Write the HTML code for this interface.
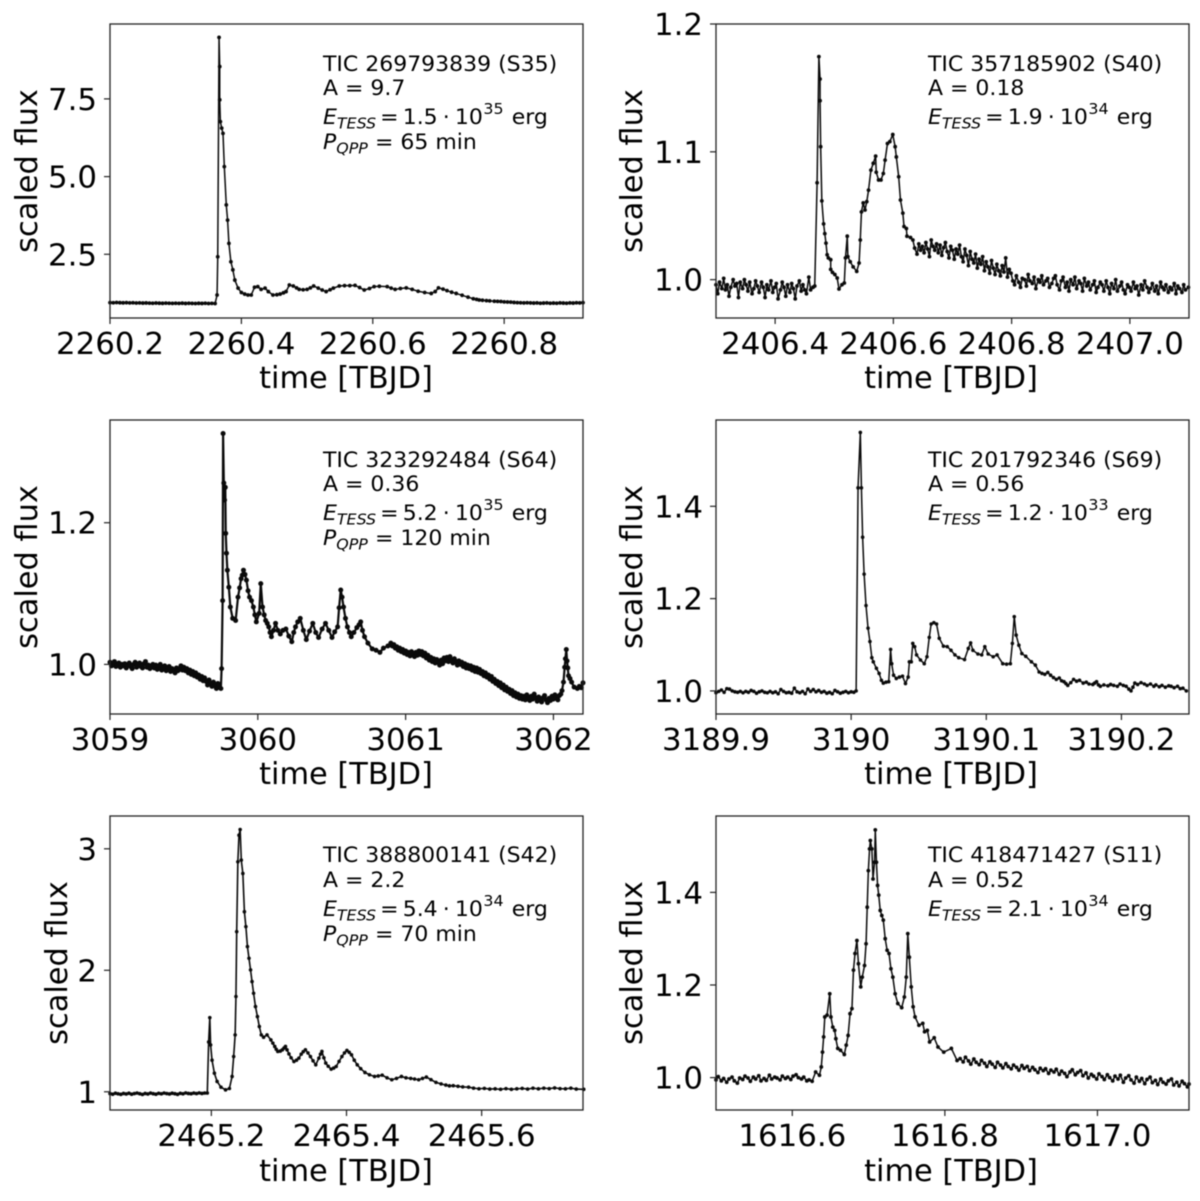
<!DOCTYPE html>
<html lang="en">
<head>
<meta charset="utf-8">
<title>TESS flare light curves</title>
<style>
html,body{margin:0;padding:0;background:#fff;}
svg{display:block;filter:blur(0.4px);}
text{font-family:"DejaVu Sans","Liberation Sans",sans-serif;fill:#000;}
.axis-title{font-size:30.4px;}
.ann{font-size:21.5px;}
.it{font-style:italic;}
.small{font-size:15.5px;}
</style>
</head>
<body>
<svg id="figure" xmlns="http://www.w3.org/2000/svg" width="1200" height="1201" viewBox="0 0 1200 1201">
<rect width="1200" height="1201" fill="#fff"/>

<g id="panel-1"></g>
<g id="panel-2"></g>
<g id="panel-3"></g>
<g id="panel-4"></g>
<g id="panel-5"></g>
<g id="panel-6"></g>

<!-- axis titles -->
<text class="axis-title" transform="translate(37,171) rotate(-90)" text-anchor="middle">scaled flux</text>
<text class="axis-title" transform="translate(346,388)" text-anchor="middle">time [TBJD]</text>
<text class="axis-title" transform="translate(642,171) rotate(-90)" text-anchor="middle">scaled flux</text>
<text class="axis-title" transform="translate(951,388)" text-anchor="middle">time [TBJD]</text>
<text class="axis-title" transform="translate(37,567) rotate(-90)" text-anchor="middle">scaled flux</text>
<text class="axis-title" transform="translate(346,784)" text-anchor="middle">time [TBJD]</text>
<text class="axis-title" transform="translate(642,567) rotate(-90)" text-anchor="middle">scaled flux</text>
<text class="axis-title" transform="translate(951,784)" text-anchor="middle">time [TBJD]</text>
<text class="axis-title" transform="translate(67,963) rotate(-90)" text-anchor="middle">scaled flux</text>
<text class="axis-title" transform="translate(346,1181)" text-anchor="middle">time [TBJD]</text>
<text class="axis-title" transform="translate(642,963) rotate(-90)" text-anchor="middle">scaled flux</text>
<text class="axis-title" transform="translate(951,1181)" text-anchor="middle">time [TBJD]</text>

<!-- panel 1 annotation -->
<g>
<text class="ann" transform="translate(323,71) scale(1.023,1)">TIC 269793839 (S35)</text>
<text class="ann" transform="translate(323,95) scale(1.023,1)">A = 9.7</text>
<text class="ann" transform="translate(323,124) scale(1.023,1)"><tspan class="it">E</tspan><tspan class="it small" dy="4.5">TESS</tspan><tspan dy="-4.5" dx="4">=</tspan><tspan dx="4">1.5</tspan><tspan dx="5">·</tspan><tspan dx="5">10</tspan><tspan class="small" dy="-10" dx="0.5">35</tspan><tspan dy="10" dx="8">erg</tspan></text>
<text class="ann" transform="translate(323,149) scale(1.023,1)"><tspan class="it">P</tspan><tspan class="it small" dy="4.5">QPP</tspan><tspan dy="-4.5" dx="7">= 65 min</tspan></text>
</g>
<!-- panel 2 annotation -->
<g>
<text class="ann" transform="translate(928,71) scale(1.023,1)">TIC 357185902 (S40)</text>
<text class="ann" transform="translate(928,95) scale(1.023,1)">A = 0.18</text>
<text class="ann" transform="translate(928,124) scale(1.023,1)"><tspan class="it">E</tspan><tspan class="it small" dy="4.5">TESS</tspan><tspan dy="-4.5" dx="4">=</tspan><tspan dx="4">1.9</tspan><tspan dx="5">·</tspan><tspan dx="5">10</tspan><tspan class="small" dy="-10" dx="0.5">34</tspan><tspan dy="10" dx="8">erg</tspan></text>
</g>
<!-- panel 3 annotation -->
<g>
<text class="ann" transform="translate(323,467) scale(1.023,1)">TIC 323292484 (S64)</text>
<text class="ann" transform="translate(323,491) scale(1.023,1)">A = 0.36</text>
<text class="ann" transform="translate(323,520) scale(1.023,1)"><tspan class="it">E</tspan><tspan class="it small" dy="4.5">TESS</tspan><tspan dy="-4.5" dx="4">=</tspan><tspan dx="4">5.2</tspan><tspan dx="5">·</tspan><tspan dx="5">10</tspan><tspan class="small" dy="-10" dx="0.5">35</tspan><tspan dy="10" dx="8">erg</tspan></text>
<text class="ann" transform="translate(323,545) scale(1.023,1)"><tspan class="it">P</tspan><tspan class="it small" dy="4.5">QPP</tspan><tspan dy="-4.5" dx="7">= 120 min</tspan></text>
</g>
<!-- panel 4 annotation -->
<g>
<text class="ann" transform="translate(928,467) scale(1.023,1)">TIC 201792346 (S69)</text>
<text class="ann" transform="translate(928,491) scale(1.023,1)">A = 0.56</text>
<text class="ann" transform="translate(928,520) scale(1.023,1)"><tspan class="it">E</tspan><tspan class="it small" dy="4.5">TESS</tspan><tspan dy="-4.5" dx="4">=</tspan><tspan dx="4">1.2</tspan><tspan dx="5">·</tspan><tspan dx="5">10</tspan><tspan class="small" dy="-10" dx="0.5">33</tspan><tspan dy="10" dx="8">erg</tspan></text>
</g>
<!-- panel 5 annotation -->
<g>
<text class="ann" transform="translate(323,862) scale(1.023,1)">TIC 388800141 (S42)</text>
<text class="ann" transform="translate(323,887) scale(1.023,1)">A = 2.2</text>
<text class="ann" transform="translate(323,916) scale(1.023,1)"><tspan class="it">E</tspan><tspan class="it small" dy="4.5">TESS</tspan><tspan dy="-4.5" dx="4">=</tspan><tspan dx="4">5.4</tspan><tspan dx="5">·</tspan><tspan dx="5">10</tspan><tspan class="small" dy="-10" dx="0.5">34</tspan><tspan dy="10" dx="8">erg</tspan></text>
<text class="ann" transform="translate(323,941) scale(1.023,1)"><tspan class="it">P</tspan><tspan class="it small" dy="4.5">QPP</tspan><tspan dy="-4.5" dx="7">= 70 min</tspan></text>
</g>
<!-- panel 6 annotation -->
<g>
<text class="ann" transform="translate(928,862) scale(1.023,1)">TIC 418471427 (S11)</text>
<text class="ann" transform="translate(928,887) scale(1.023,1)">A = 0.52</text>
<text class="ann" transform="translate(928,916) scale(1.023,1)"><tspan class="it">E</tspan><tspan class="it small" dy="4.5">TESS</tspan><tspan dy="-4.5" dx="4">=</tspan><tspan dx="4">2.1</tspan><tspan dx="5">·</tspan><tspan dx="5">10</tspan><tspan class="small" dy="-10" dx="0.5">34</tspan><tspan dy="10" dx="8">erg</tspan></text>
</g>
</svg>

<script>
// Times are stored relative to the whole day of each panel's TBJD axis.
const p1XTicks = [0.2, 0.4, 0.6, 0.8];
const p1XLabels = ["2260.2", "2260.4", "2260.6", "2260.8"];
const p1YTicks = [2.5, 5.0, 7.5];
const p1YLabels = ["2.5", "5.0", "7.5"];
const p1Time = [
.200,.205,.210,.215,.220,.225,.230,.235,.240,.245,
.250,.255,.260,.265,.270,.275,.280,.285,.290,.295,
.300,.305,.310,.315,.320,.325,.330,.335,.340,.345,
.350,.355,.360,.363,.364,.366,.367,.367,.368,.370,
.372,.374,.377,.379,.381,.384,.387,.390,.395,.400,
.405,.410,.415,.420,.425,.430,.436,.441,.448,.454,
.459,.464,.468,.473,.479,.484,.488,.494,.500,.505,
.510,.517,.523,.529,.535,.540,.549,.557,.565,.573,
.580,.587,.595,.602,.610,.622,.628,.634,.642,.651,
.660,.669,.679,.689,.695,.700,.707,.713,.720,.727,
.736,.745,.753,.758,.762,.767,.773,.778,.785,.790,
.795,.800,.805,.810,.815,.820,.825,.830,.835,.840,
.845,.850,.855,.860,.865,.870,.875,.880,.885,.890,
.895,.900,.905,.910,.915,.920
];
const p1Flux = [
.945,.940,.948,.942,.938,.943,.936,.940,.933,.936,
.930,.934,.928,.925,.931,.926,.922,.928,.924,.920,
.925,.921,.926,.918,.923,.919,.916,.922,.918,.924,
.917,.921,.915,1.19,2.42,9.48,8.54,7.47,6.77,6.56,
6.39,5.32,4.09,3.60,2.85,2.26,2.00,1.67,1.41,1.27,
1.22,1.19,1.19,1.44,1.46,1.37,1.41,1.30,1.19,1.20,
1.22,1.26,1.30,1.51,1.48,1.42,1.37,1.36,1.37,1.42,
1.48,1.41,1.35,1.30,1.36,1.41,1.48,1.49,1.49,1.50,
1.43,1.35,1.40,1.46,1.47,1.46,1.41,1.37,1.40,1.42,
1.37,1.31,1.27,1.24,1.30,1.42,1.38,1.33,1.28,1.24,
1.18,1.12,1.07,1.05,1.03,1.02,1.01,1.00,.99,.985,
.98,.97,.965,.96,.95,.945,.94,.935,.94,.935,
.93,.935,.925,.93,.935,.925,.93,.925,.935,.93,
.925,.935,.93,.94,.935,.945
];

const p2XTicks = [0.4, 0.6, 0.8, 1.0];
const p2XLabels = ["2406.4", "2406.6", "2406.8", "2407.0"];
const p2YTicks = [1.0, 1.1, 1.2];
const p2YLabels = ["1.0", "1.1", "1.2"];
const p2Time = [
.300,.303,.306,.310,.313,.316,.319,.322,.325,.329,
.332,.335,.338,.341,.345,.348,.351,.354,.357,.361,
.364,.367,.370,.373,.377,.380,.383,.386,.389,.393,
.396,.399,.402,.405,.409,.412,.415,.418,.421,.425,
.428,.431,.434,.437,.441,.444,.447,.450,.453,.457,
.460,.464,.467,.471,.474,.476,.476,.477,.479,.482,
.484,.486,.488,.490,.494,.494,.497,.501,.505,.508,
.513,.517,.519,.522,.523,.527,.532,.538,.542,.544,
.546,.549,.552,.555,.558,.562,.566,.570,.571,.575,
.579,.583,.586,.590,.594,.599,.603,.605,.609,.612,
.616,.618,.622,.623,.629,.633,.636,.640,.643,.646,
.649,.652,.655,.658,.661,.664,.667,.670,.673,.676,
.679,.682,.685,.688,.691,.694,.697,.700,.703,.706,
.709,.712,.715,.718,.721,.724,.727,.730,.733,.736,
.739,.742,.745,.748,.751,.754,.757,.760,.763,.766,
.769,.772,.775,.778,.781,.784,.787,.790,.793,.796,
.799,.802,
.805,.808,.812,.815,.818,.822,.825,.828,.831,.835,
.838,.841,.845,.848,.851,.854,.858,.861,.864,.868,
.871,.874,.877,.881,.884,.887,.891,.894,.897,.900,
.904,.907,.910,.914,.917,.920,.923,.927,.930,.933,
.937,.940,.943,.946,.950,.953,.956,.960,.963,.966,
.969,.973,.976,.979,.983,.986,.989,.992,.996,.999,
1.002,1.006,1.009,1.012,1.015,1.019,1.022,1.025,1.029,1.032,
1.035,1.038,1.042,1.045,1.048,1.052,1.055,1.058,1.061,1.065,
1.068,1.071,1.075,1.078,1.081,1.084,1.088,1.091,1.094,1.099
];
const p2Flux = [
.996,.989,.998,.993,1.001,.992,.996,.987,.994,1.000,
.995,.997,.986,.998,.993,1.000,.996,.991,.998,.989,
.993,.999,.995,.990,.998,.994,.986,.996,.992,.999,
.990,.994,.997,.985,.992,.998,.994,.987,.996,.990,
.997,.993,.985,.995,.999,.991,.996,.992,.989,1.002,
.992,.994,.995,1.0758,1.1745,1.157,1.140,1.104,1.0616,1.0436,
1.036,1.0286,1.0195,1.017,1.0156,1.008,1.0057,1.004,1.0013,.9927,
.996,.9974,1.017,1.034,1.018,1.014,1.010,1.0065,1.013,1.031,
1.053,1.060,1.0545,1.061,1.070,1.0857,1.091,1.0966,1.084,1.078,
1.078,1.083,1.0935,1.1065,1.108,1.1135,1.104,1.096,1.0805,1.0623,
1.052,1.0416,1.040,1.034,1.033,1.031,1.0247,1.020,1.028,1.023,
1.026,1.021,1.029,1.024,1.018,1.031,1.026,1.023,1.028,1.021,
1.027,1.019,1.025,1.029,1.022,1.017,1.026,1.023,1.016,1.024,
1.020,1.027,1.018,1.014,1.024,1.019,1.011,1.022,1.016,1.013,
1.020,1.009,1.016,1.012,1.018,1.007,1.014,1.010,1.005,1.015,
1.009,1.004,1.012,1.007,1.003,1.011,1.006,1.017,1.002,1.008,
1.005,.999,
.996,1.003,.998,.994,1.001,1.000,.995,1.004,.999,.997,
1.002,.993,1.000,.998,1.003,.996,.999,1.001,.994,.997,
1.001,1.003,.996,.992,.999,1.002,.994,.998,.991,1.000,
.996,1.002,.993,.999,.997,.991,1.001,.995,.998,.992,
.996,.999,.990,.994,.998,.996,.991,.999,.994,.989,
.997,.993,1.000,.991,.995,.998,.992,.989,.996,.994,
.991,.998,.993,.995,.988,.996,.992,.999,.994,.990,
.993,.997,.991,.995,.989,.998,.994,.992,.996,.990,
.994,.992,.997,.989,.995,.993,.990,.996,.992,.994
];

const p3XTicks = [0, 1, 2, 3];
const p3XLabels = ["3059", "3060", "3061", "3062"];
const p3YTicks = [1.0, 1.2];
const p3YLabels = ["1.0", "1.2"];
const p3Time = [
.00,.01,.02,.03,.04,.05,.06,.07,.08,.09,
.10,.11,.12,.13,.14,.15,.16,.17,.18,.19,
.20,.21,.22,.23,.24,.25,.26,.27,.28,.29,
.30,.31,.32,.33,.34,.35,.36,.37,.38,.39,
.40,.41,.42,.43,.44,.45,.46,.47,.48,.49,
.50,.51,.52,.53,.54,.55,.56,.57,.58,.59,
.60,.61,.62,.63,.64,.65,.66,.67,.68,.69,
.70,.71,.72,.73,.74,
.750,.755,.762,.765,.770,.775,.780,.783,.788,.794,
.804,.814,.830,.850,.866,.877,.887,.895,.903,.913,
.923,.934,.944,.957,.970,.980,.990,1.009,1.020,1.032,
1.043,1.053,1.064,1.074,1.083,1.092,1.106,1.120,1.136,1.152,
1.170,1.190,1.210,1.230,1.243,1.255,1.270,1.287,1.308,1.328,
1.350,1.372,1.392,1.411,1.435,1.458,1.480,1.502,1.520,1.540,
1.550,1.561,1.570,1.580,1.593,1.606,1.620,1.632,1.650,1.670,
1.685,1.696,1.708,1.722,1.745,1.774,1.800,1.826,1.850,1.880,
1.90,1.91,1.92,1.93,1.94,1.95,1.96,1.97,1.98,1.99,
2.00,2.01,2.02,2.03,2.04,2.05,2.06,2.07,2.08,2.09,
2.10,2.11,2.12,2.13,2.14,2.15,2.16,2.17,2.18,2.19,
2.20,2.21,2.22,2.23,2.24,2.25,2.26,2.27,2.28,2.29,
2.30,2.31,2.32,2.33,2.34,2.35,2.36,2.37,2.38,2.39,
2.40,2.41,2.42,2.43,2.44,2.45,2.46,2.47,2.48,2.49,
2.50,2.51,2.52,2.53,2.54,2.55,2.56,2.57,2.58,2.59,
2.60,2.61,2.62,2.63,2.64,2.65,2.66,2.67,2.68,2.69,
2.70,2.71,2.72,2.73,2.74,2.75,2.76,2.77,2.78,2.79,
2.80,2.81,2.82,2.83,2.84,2.85,2.86,2.87,2.88,2.89,
2.90,2.91,2.92,2.93,2.94,2.95,2.96,2.97,2.98,2.99,
3.00,3.01,3.02,3.03,3.04,3.05,3.058,3.068,
3.076,3.081,3.087,3.092,3.097,3.102,3.112,3.123,3.140,3.162,
3.175,3.188,3.200
];
const p3Flux = [
1.003,.998,1.001,1.004,.997,.999,1.002,.996,1.000,.998,
1.001,.995,.999,1.002,.997,.994,1.000,1.003,.996,.998,
1.002,.997,.995,1.001,1.004,.996,.999,.994,.998,1.000,
.995,.999,.993,.997,1.000,.992,.996,.998,.991,.995,
.997,.990,.994,.992,.988,.995,.991,.993,.998,.992,
.996,.991,.994,.988,.992,.986,.990,.984,.988,.982,
.985,.979,.983,.977,.981,.976,.971,.978,.973,.969,
.975,.970,.966,.973,.968,
.966,.994,1.09,1.326,1.256,1.232,1.25,1.185,1.157,1.133,
1.109,1.081,1.065,1.062,1.095,1.108,1.121,1.126,1.133,1.127,
1.119,1.104,1.095,1.090,1.081,1.070,1.060,1.072,1.114,1.081,
1.070,1.062,1.058,1.053,1.045,1.039,1.048,1.058,1.048,1.043,
1.048,1.050,1.040,1.032,1.045,1.053,1.060,1.065,1.048,1.035,
1.047,1.058,1.045,1.038,1.050,1.058,1.048,1.038,1.046,1.053,
1.080,1.105,1.095,1.081,1.065,1.053,1.045,1.039,1.045,1.052,
1.056,1.060,1.048,1.039,1.030,1.022,1.020,1.017,1.023,1.026,
1.030,1.026,1.028,1.023,1.025,1.020,1.023,1.018,1.021,1.016,
1.019,1.014,1.017,1.012,1.018,1.015,1.011,1.017,1.013,1.019,
1.014,1.018,1.012,1.016,1.009,1.013,1.006,1.010,1.004,1.008,
1.002,1.007,1.003,.999,1.006,1.001,1.009,1.005,1.010,1.004,
1.011,1.006,1.002,1.008,1.004,.999,1.005,1.000,1.003,.997,
1.001,.995,.999,.994,.998,.992,.996,.990,.995,.989,
.993,.987,.990,.984,.988,.982,.985,.979,.983,.976,
.979,.973,.976,.970,.974,.967,.971,.964,.968,.962,
.965,.959,.963,.956,.960,.954,.958,.952,.956,.951,
.955,.950,.957,.952,.949,.955,.951,.958,.953,.948,
.954,.950,.947,.953,.956,.950,.946,.952,.949,.955,
.951,.957,.953,.950,.956,.958,.963,.975,
.996,1.008,1.021,1.005,.995,.984,.980,.975,.968,.966,
.969,.967,.974
];

const p4XTicks = [-0.1, 0, 0.1, 0.2];
const p4XLabels = ["3189.9", "3190", "3190.1", "3190.2"];
const p4YTicks = [1.0, 1.2, 1.4];
const p4YLabels = ["1.0", "1.2", "1.4"];
const p4Time = [
-.100,-.098,-.096,-.094,-.092,-.090,-.088,-.086,-.084,-.082,
-.080,-.078,-.076,-.074,-.072,-.070,-.068,-.066,-.064,-.062,
-.060,-.058,-.056,-.054,-.052,-.050,-.048,-.046,-.044,-.042,
-.040,-.038,-.036,-.034,-.032,-.030,-.028,-.026,-.024,-.022,
-.020,-.018,-.016,-.014,-.012,-.010,-.008,-.006,-.004,-.002,
.000,.002,.0037,.0051,.0068,.0076,.0085,.0096,.011,.0125,
.0139,.0153,.0164,.0187,.0207,.0224,.0238,.0258,.0278,.0292,
.030,.0314,.0334,.0357,.038,.0402,.0422,.0431,.0445,.0456,
.047,.0484,.0513,.0541,.0561,.0578,.0592,.0612,.0632,.0652,
.0683,.0711,.0739,.0768,.0796,.0839,.0867,.0884,.0901,.0938,
.0966,.0989,.1014,.1051,.108,.1122,.115,.1178,.1193,.1207,
.1221,.1241,.1263,.1292,.1334,.1363,
.1391,.1412,.1433,.1455,.1476,.1497,.1518,.154,.1557,.1575,
.1589,.1603,.1625,.1646,.1668,.1690,.1717,.174,.176,.1788,
.1802,.1816,.1830,.1844,.187,.190,.192,.1943,.197,.199,
.2014,.2035,.2055,.2071,.2085,.2099,.212,.2145,.217,.219,
.2215,.2240,.2255,.228,.230,.2325,.235,.2368,.239,.2415,
.2435,.2455,.2480
];
const p4Flux = [
.996,.999,1.002,.997,1.005,1.004,1.000,.998,.997,.999,
.996,.999,.997,1.001,.999,.995,.998,1.000,.997,.996,
.999,.996,.998,.994,1.003,.999,.996,.997,.995,1.006,
.998,.996,.999,.994,1.004,.999,1.003,.998,1.001,.997,
.999,.995,.997,.994,1.001,.998,.995,.997,.999,.996,
.998,.997,1.000,1.44,1.56,1.44,1.333,1.253,1.185,1.136,
1.107,1.072,1.063,1.049,1.038,1.023,1.017,1.019,1.020,1.090,
1.059,1.034,1.027,1.030,1.032,1.016,1.030,1.063,1.063,1.103,
1.096,1.078,1.067,1.059,1.074,1.116,1.145,1.148,1.145,1.114,
1.097,1.096,1.088,1.078,1.072,1.068,1.092,1.104,1.088,1.080,
1.078,1.096,1.080,1.074,1.078,1.059,1.058,1.059,1.103,1.161,
1.121,1.099,1.081,1.075,1.063,1.056,
1.041,1.038,1.036,1.040,1.034,1.029,1.025,1.028,1.022,1.020,
1.016,1.012,1.018,1.025,1.021,1.023,1.017,1.019,1.015,1.014,
1.017,1.020,1.013,1.010,1.013,1.011,1.014,1.012,1.010,1.015,
1.012,1.010,1.004,1.000,1.008,1.017,1.014,1.018,1.015,1.012,
1.015,1.010,1.013,1.009,1.012,1.008,1.011,1.010,1.007,1.010,
1.005,1.006,1.000
];

const p5XTicks = [0.2, 0.4, 0.6];
const p5XLabels = ["2465.2", "2465.4", "2465.6"];
const p5YTicks = [1, 2, 3];
const p5YLabels = ["1", "2", "3"];
const p5Time = [
.050,.054,.058,.062,.066,.070,.074,.078,.082,.086,
.090,.094,.098,.102,.106,.110,.114,.118,.122,.126,
.130,.134,.138,.142,.146,.150,.154,.158,.162,.166,
.170,.174,.178,.182,.186,.190,.194,.196,.1977,.1989,
.201,.2045,.2085,.2142,.221,.2267,.2307,.233,.2352,.2364,
.2375,.2392,.2409,.2426,.2443,.2466,.2489,.2511,.2534,.2557,
.258,.2602,.2625,.2653,.2682,.271,.2739,.2773,.2824,
.2881,.291,.2938,.296,.2983,.302,.3051,.3075,.3097,.312,
.3148,.318,.3222,.326,.3295,.333,.336,.3392,.343,.3466,
.3505,.3545,.3591,.3615,.3636,.3665,.3693,.373,.3773,.381,
.3847,.389,.3932,.397,.4006,.404,.4074,.4115,.4159,.421,
.4273,.434,.4415,.447,.4528,.460,.467,.474,.4813,.488,
.495,.5007,.5068,.5125,.5182,.525,.5324,.540,.547,.5523,
.558,.565,.572,.5807,.588,.596,.604,.612,.620,.628,
.636,.644,.652,.660,.668,.676,.684,.692,.700,.708,
.716,.724,.732,.740,.7511
];
const p5Flux = [
.985,.980,.988,.983,.979,.986,.982,.988,.980,.985,
.990,.984,.978,.986,.982,.989,.984,.980,.987,.983,
.990,.985,.982,.988,.984,.979,.987,.983,.991,.986,
.984,.989,.985,.991,.986,.990,.990,1.41,1.61,1.386,
1.26,1.153,1.085,1.038,1.016,1.027,1.126,1.29,1.468,1.784,
2.318,2.893,3.112,3.159,2.907,2.797,2.482,2.359,2.195,2.099,
2.003,1.907,1.811,1.701,1.619,1.537,1.468,1.449,1.468,
1.427,1.40,1.373,1.35,1.332,1.335,1.345,1.36,1.373,1.345,
1.312,1.28,1.249,1.26,1.277,1.31,1.33,1.345,1.32,1.29,
1.255,1.222,1.277,1.31,1.332,1.28,1.236,1.21,1.186,1.195,
1.208,1.25,1.29,1.32,1.34,1.325,1.304,1.26,1.222,1.19,
1.159,1.14,1.126,1.13,1.137,1.115,1.099,1.11,1.126,1.115,
1.11,1.105,1.099,1.11,1.121,1.10,1.077,1.065,1.055,1.049,
1.05,1.045,1.04,1.038,1.03,1.025,1.028,1.022,1.024,1.02,
1.026,1.02,1.024,1.028,1.022,1.03,1.024,1.03,1.026,1.032,
1.026,1.024,1.03,1.022,1.02
];

const p6XTicks = [0.6, 0.8, 1.0];
const p6XLabels = ["1616.6", "1616.8", "1617.0"];
const p6YTicks = [1.0, 1.2, 1.4];
const p6YLabels = ["1.0", "1.2", "1.4"];
const p6Time = [
.500,.503,.507,.510,.514,.517,.521,.524,.528,.531,
.535,.538,.542,.545,.549,.552,.556,.559,.563,.566,
.570,.573,.577,.580,.584,.587,.591,.594,.598,.601,
.605,.608,.612,.615,.619,.622,.626,.6306,.6356,.638,
.6396,.6411,.6426,.6456,.6491,.6506,.6531,.6556,.6571,.6596,
.6632,.6682,.6707,.6732,.6757,.6782,.6802,.6822,.6847,.6867,
.6897,.6917,.6947,.6967,.6982,.6997,.7013,.7023,.7043,.7058,
.7078,.7088,.7103,.7118,.7133,.7153,.7173,.7193,.7218,.7243,
.7268,.7293,.7318,.7348,.7383,.7434,.7469,.7494,.7514,.7534,
.7559,.7584,.7609,.766,.771,.7734,.777,.78,.786,.791,
.7985,.8085,.816,.820,.824,.827,.831,.834,.838,.841,
.845,.848,.852,.855,.859,.862,.866,.869,.873,.876,
.880,.883,.887,.890,.894,.897,.901,.904,.908,.911,
.915,.918,.922,.925,.929,.932,.936,.939,.943,.946,
.950,.953,.957,.960,.964,.967,.971,.974,.978,.981,
.985,.988,.992,.995,.999,1.002,1.006,1.009,1.013,1.016,
1.020,1.023,1.027,1.030,1.034,1.037,1.041,1.044,1.048,1.051,
1.055,1.058,1.062,1.065,1.069,1.072,1.076,1.079,1.083,1.086,
1.090,1.093,1.097,1.100,1.104,1.107,1.111,1.114,1.118,1.120
];
const p6Flux = [
.995,1.002,.993,.998,.990,.997,1.001,.993,.988,.999,
.996,1.003,.999,.992,1.001,.997,1.004,.993,.998,.994,
1.005,.997,1.001,.999,.995,1.003,.998,1.001,.996,1.003,
1.006,1.000,.997,1.001,.993,.995,.992,1.012,1.005,1.023,
1.055,1.088,1.131,1.135,1.181,1.131,1.109,1.102,1.084,1.063,
1.059,1.05,1.07,1.091,1.138,1.149,1.232,1.268,1.296,1.246,
1.196,1.217,1.242,1.289,1.368,1.447,1.494,1.512,1.494,1.429,
1.465,1.535,1.465,1.415,1.394,1.361,1.35,1.34,1.30,1.275,
1.268,1.235,1.217,1.181,1.16,1.151,1.174,1.217,1.311,1.26,
1.196,1.153,1.131,1.113,1.117,1.099,1.102,1.077,1.086,1.066,
1.055,1.063,1.037,1.041,1.034,1.044,1.036,1.029,1.040,1.033,
1.028,1.037,1.031,1.024,1.034,1.029,1.022,1.033,1.027,1.021,
1.030,1.024,1.019,1.027,1.022,1.016,1.026,1.020,1.024,1.015,
1.022,1.017,1.011,1.020,1.015,1.019,1.009,1.016,1.012,1.018,
1.007,1.014,1.009,1.002,1.012,1.017,1.006,1.011,1.015,1.004,
1.010,.999,1.007,1.003,.997,1.008,1.002,.996,1.006,1.000,
.993,1.003,.997,1.005,.990,.999,1.004,.995,.988,1.001,
.992,.998,.987,.996,1.001,.989,.994,.985,.997,.990,
.986,.993,.997,.984,.990,.982,.992,.987,.980,.986
];

const SVG_NS = "http://www.w3.org/2000/svg";

const panelConfigs = [
  {id:"panel-1", left:110, top:24,  width:473, height:294, xMin:.2,  xMax:.92,  yMin:.45,  yMax:9.91,  time:p1Time, flux:p1Flux, xTicks:p1XTicks, xLabels:p1XLabels, yTicks:p1YTicks, yLabels:p1YLabels, lineWidth:1.5, radius:1.9},
  {id:"panel-2", left:716, top:24,  width:473, height:294, xMin:.3,  xMax:1.1,  yMin:.97,  yMax:1.2,   time:p2Time, flux:p2Flux, xTicks:p2XTicks, xLabels:p2XLabels, yTicks:p2YTicks, yLabels:p2YLabels, lineWidth:1.5, radius:1.9},
  {id:"panel-3", left:110, top:420, width:473, height:294, xMin:0,   xMax:3.2,  yMin:.93,  yMax:1.345, time:p3Time, flux:p3Flux, xTicks:p3XTicks, xLabels:p3XLabels, yTicks:p3YTicks, yLabels:p3YLabels, lineWidth:2.2, radius:2.5},
  {id:"panel-4", left:716, top:420, width:473, height:294, xMin:-.1, xMax:.25,  yMin:.95,  yMax:1.587, time:p4Time, flux:p4Flux, xTicks:p4XTicks, xLabels:p4XLabels, yTicks:p4YTicks, yLabels:p4YLabels, lineWidth:1.5, radius:1.8},
  {id:"panel-5", left:110, top:816, width:473, height:294, xMin:.05, xMax:.75,  yMin:.85,  yMax:3.27,  time:p5Time, flux:p5Flux, xTicks:p5XTicks, xLabels:p5XLabels, yTicks:p5YTicks, yLabels:p5YLabels, lineWidth:1.6, radius:1.8},
  {id:"panel-6", left:716, top:816, width:473, height:294, xMin:.5,  xMax:1.12, yMin:.93,  yMax:1.565, time:p6Time, flux:p6Flux, xTicks:p6XTicks, xLabels:p6XLabels, yTicks:p6YTicks, yLabels:p6YLabels, lineWidth:1.5, radius:1.9}
];

function drawPanel(cfg) {
  const root = document.getElementById(cfg.id);
  const xScale = v => cfg.left + (v - cfg.xMin) / (cfg.xMax - cfg.xMin) * cfg.width;
  const yScale = v => cfg.top + cfg.height - (v - cfg.yMin) / (cfg.yMax - cfg.yMin) * cfg.height;
  const count = Math.min(cfg.time.length, cfg.flux.length);

  let pts = "";
  for (let i = 0; i < count; i++) {
    pts += xScale(cfg.time[i]).toFixed(2) + "," + yScale(cfg.flux[i]).toFixed(2) + " ";
  }
  const line = document.createElementNS(SVG_NS, "polyline");
  
  
  line.setAttribute("points", pts);
  line.setAttribute("fill", "none");
  line.setAttribute("stroke", "#0a0a0a");
  line.setAttribute("stroke-width", cfg.lineWidth);
  line.setAttribute("stroke-linejoin", "round");
  root.appendChild(line);

  for (let i = 0; i < count; i++) {
    const dot = document.createElementNS(SVG_NS, "circle");
    
    
    dot.setAttribute("cx", xScale(cfg.time[i]).toFixed(2));
    dot.setAttribute("cy", yScale(cfg.flux[i]).toFixed(2));
    dot.setAttribute("r", cfg.radius);
    dot.setAttribute("fill", "#0a0a0a");
    root.appendChild(dot);
  }

  const frame = document.createElementNS(SVG_NS, "rect");
  
  
  frame.setAttribute("x", cfg.left);
  frame.setAttribute("y", cfg.top);
  frame.setAttribute("width", cfg.width);
  frame.setAttribute("height", cfg.height);
  frame.setAttribute("fill", "none");
  frame.setAttribute("stroke", "#222");
  frame.setAttribute("stroke-width", "1.3");
  root.appendChild(frame);

  const bottom = cfg.top + cfg.height;
  cfg.xTicks.forEach((value, i) => {
    const px = xScale(value);
    const tick = document.createElementNS(SVG_NS, "line");
    
    
    tick.setAttribute("x1", px);
    tick.setAttribute("x2", px);
    tick.setAttribute("y1", bottom);
    tick.setAttribute("y2", bottom + 6);
    tick.setAttribute("stroke", "#222");
    tick.setAttribute("stroke-width", "1.2");
    root.appendChild(tick);
    const label = document.createElementNS(SVG_NS, "text");
    
    
    label.setAttribute("transform", "translate(" + px + "," + (bottom + 36) + ") scale(1.015,1)");
    label.setAttribute("text-anchor", "middle");
    label.setAttribute("font-size", "30.4");
    label.textContent = cfg.xLabels[i];
    root.appendChild(label);
  });

  cfg.yTicks.forEach((value, i) => {
    const py = yScale(value);
    const tick = document.createElementNS(SVG_NS, "line");
    
    
    tick.setAttribute("x1", cfg.left - 6);
    tick.setAttribute("x2", cfg.left);
    tick.setAttribute("y1", py);
    tick.setAttribute("y2", py);
    tick.setAttribute("stroke", "#222");
    tick.setAttribute("stroke-width", "1.2");
    root.appendChild(tick);
    const label = document.createElementNS(SVG_NS, "text");
    
    
    label.setAttribute("transform", "translate(" + (cfg.left - 13) + "," + (py + 11) + ") scale(1.015,1)");
    label.setAttribute("text-anchor", "end");
    label.setAttribute("font-size", "30.4");
    label.textContent = cfg.yLabels[i];
    root.appendChild(label);
  });
}

panelConfigs.forEach(drawPanel);
</script>
</body>
</html>
